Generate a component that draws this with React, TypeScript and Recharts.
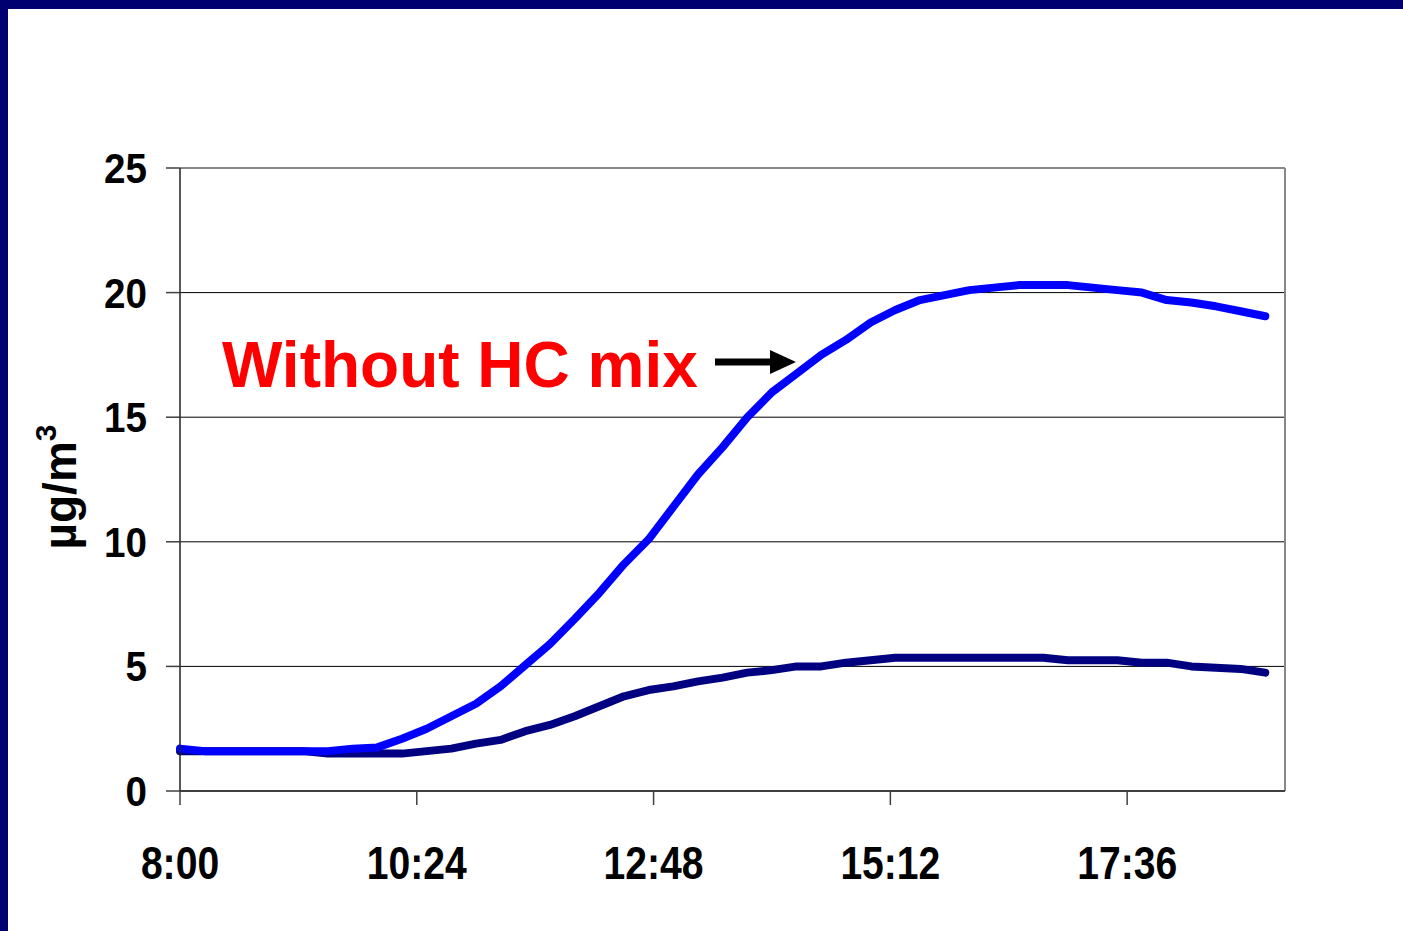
import { LineChart, Line, XAxis, YAxis, CartesianGrid, ReferenceLine } from "recharts";

// sample times, every 15 minutes
const times = [
  "8:00", "8:15", "8:30", "8:45", "9:00", "9:15", "9:30", "9:45",
  "10:00", "10:15", "10:30", "10:45", "11:00", "11:15", "11:30", "11:45",
  "12:00", "12:15", "12:30", "12:45", "13:00", "13:15", "13:30", "13:45",
  "14:00", "14:15", "14:30", "14:45", "15:00", "15:15", "15:30", "15:45",
  "16:00", "16:15", "16:30", "16:45", "17:00", "17:15", "17:30", "17:45",
  "18:00", "18:15", "18:30", "18:45", "19:00",
];

const withoutHC = [
  1.7, 1.6, 1.6, 1.6, 1.6, 1.6, 1.6, 1.7,
  1.75, 2.1, 2.5, 3.0, 3.5, 4.2, 5.05, 5.9,
  6.9, 7.95, 9.1, 10.1, 11.4, 12.7, 13.8, 15.0,
  16.0, 16.75, 17.5, 18.1, 18.8, 19.3, 19.7, 19.9,
  20.1, 20.2, 20.3, 20.3, 20.3, 20.2, 20.1, 20.0,
  19.7, 19.6, 19.45, 19.25, 19.05,
];

const withHC = [
  1.6, 1.6, 1.6, 1.6, 1.6, 1.6, 1.5, 1.5,
  1.5, 1.5, 1.6, 1.7, 1.9, 2.05, 2.4, 2.65,
  3.0, 3.4, 3.8, 4.05, 4.2, 4.4, 4.55, 4.75,
  4.85, 5.0, 5.0, 5.15, 5.25, 5.35, 5.35, 5.35,
  5.35, 5.35, 5.35, 5.35, 5.25, 5.25, 5.25, 5.15,
  5.15, 5.0, 4.95, 4.9, 4.75,
];

const xTicks = ["8:00", "10:24", "12:48", "15:12", "17:36"];
const yTicks = [0, 5, 10, 15, 20, 25];

const toMin = (s: string) => {
  const [h, m] = s.split(":").map(Number);
  return h * 60 + m;
};
const fmt = (v: number) => `${Math.floor(v / 60)}:${String(v % 60).padStart(2, "0")}`;

const data = times.map((t, i) => ({ t: toMin(t), without: withoutHC[i], with: withHC[i] }));

const FONT = "'Liberation Sans', Arial, sans-serif";

function XTick({ x, y, payload }: any) {
  return (
    <g transform={`translate(${x},${y + 72}) scale(0.85,1)`}>
      <text textAnchor="middle" fontFamily={FONT} fontWeight="bold" fontSize={46} fill="#000">
        {fmt(payload.value)}
      </text>
    </g>
  );
}

function YTick({ y, payload }: any) {
  return (
    <g transform={`translate(147,${y + 15}) scale(0.92,1)`}>
      <text textAnchor="end" fontFamily={FONT} fontWeight="bold" fontSize={42} fill="#000">
        {payload.value}
      </text>
    </g>
  );
}

export default function App() {
  return (
    <div style={{ position: "absolute", left: 0, top: 0, width: 1403, height: 931, background: "#fff" }}>
      <LineChart
        width={1403}
        height={931}
        data={data}
        margin={{ top: 168, right: 118, left: 80, bottom: 60 }}
      >
        <CartesianGrid horizontal vertical={false} stroke="#000" strokeWidth={1} />
        <XAxis
          dataKey="t"
          type="number"
          domain={[480, 1152]}
          ticks={xTicks.map(toMin)}
          tick={<XTick />}
          tickSize={14}
          tickLine={{ stroke: "#404040", strokeWidth: 1.5 }}
          axisLine={{ stroke: "#404040", strokeWidth: 2 }}
          height={80}
        />
        <YAxis
          domain={[0, 25]}
          ticks={yTicks}
          tick={<YTick />}
          tickSize={14}
          tickLine={{ stroke: "#404040", strokeWidth: 1.5 }}
          axisLine={{ stroke: "#202020", strokeWidth: 1.5 }}
          width={100}
        />
        <ReferenceLine y={25} stroke="#888" strokeWidth={2} />
        <ReferenceLine x={1152} stroke="#888" strokeWidth={2} />
        <Line
          dataKey="with"
          name="With HC mix"
          type="linear"
          stroke="#000080"
          strokeWidth={8}
          strokeLinecap="round"
          strokeLinejoin="round"
          dot={false}
          isAnimationActive={false}
        />
        <Line
          dataKey="without"
          name="Without HC mix"
          type="linear"
          stroke="#0000ff"
          strokeWidth={8}
          strokeLinecap="round"
          strokeLinejoin="round"
          dot={false}
          isAnimationActive={false}
        />
      </LineChart>
      <svg
        width={1403}
        height={931}
        style={{ position: "absolute", left: 0, top: 0, pointerEvents: "none" }}
      >
        <rect x={0} y={0} width={1403} height={9} fill="#000070" />
        <rect x={0} y={0} width={8} height={931} fill="#000070" />
        <text
          transform="translate(76,487) rotate(-90)"
          textAnchor="middle"
          fontFamily={FONT}
          fontWeight="bold"
          fontSize={46}
          fill="#000"
        >
          µg/m<tspan dy={-20} fontSize={30}>3</tspan>
        </text>
        <text x={222} y={387} fontFamily={FONT} fontWeight="bold" fontSize={64} fill="#ff0000">
          Without HC mix
        </text>
        <line x1={715} y1={362} x2={774} y2={362} stroke="#000" strokeWidth={7} />
        <polygon points="770,350 796,362 770,374" fill="#000" />
      </svg>
    </div>
  );
}
